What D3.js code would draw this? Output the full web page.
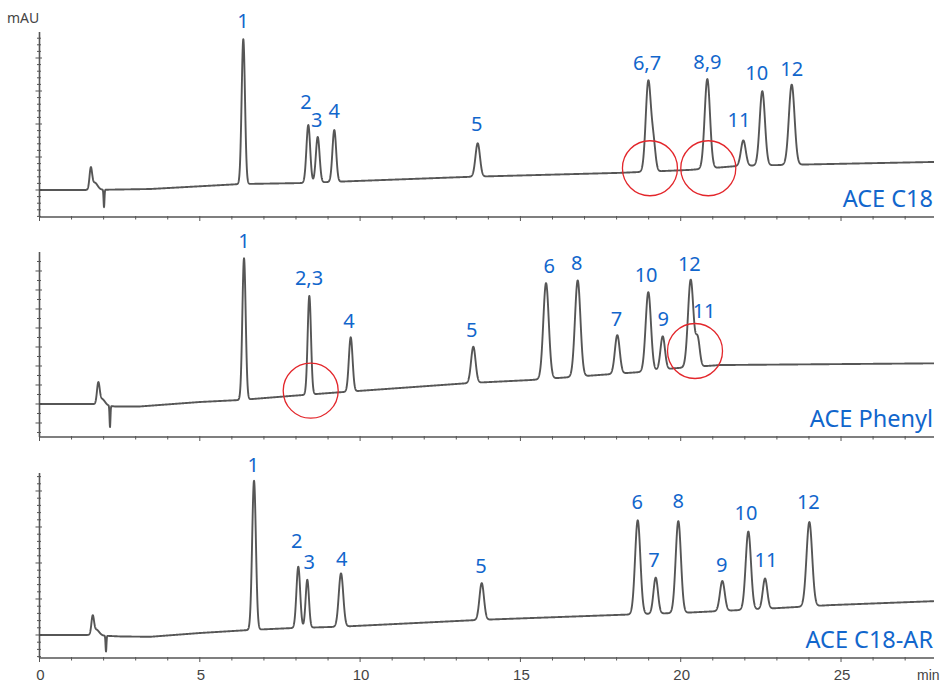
<!DOCTYPE html>
<html><head><meta charset="utf-8">
<script src="https://cdn.jsdelivr.net/npm/d3@7"></script>
<style>html,body{margin:0;padding:0;background:#fff;} svg{display:block;}</style>
</head><body><svg id="chart" width="944" height="684"></svg>
<script>
// ---------------- DATA ----------------
const timeDomain = [0, 27.9];
const xTickLabels = [0, 5, 10, 15, 20, 25];
const xUnit = "min";
const yUnit = "mAU";
const columnNames = ["ACE C18", "ACE Phenyl", "ACE C18-AR"];

// y-axis value ranges of each trace (arbitrary mAU scale per trace)
const c18YDomain = [-8.18, 47.88];
const phenylYDomain = [-17.37, 80.0];
const c18arYDomain = [-6.39, 45.0];

// baseline drift points [time, value]
const c18Baseline = [[0,0],[1.51,0],[3.45,0.3],[6.25,1.8],[8.13,2.1],[13.43,4.0],[18.11,5.2],[20.3,6.1],[21.8,7.3],[23.73,7.7],[27.9,8.5]];
const phenylBaseline = [[0,0],[1.64,0],[2.35,-1.3],[3.13,-1.3],[5.0,1.05],[6.25,2.1],[7.81,4.2],[9.06,5.8],[13.43,11.05],[15.3,12.6],[17.48,15.3],[18.73,16.8],[19.8,18.8],[21.23,20.5],[27.9,21.4]];
const c18arBaseline = [[0,0],[1.51,0],[2.51,-0.4],[3.45,-0.5],[5.0,0.55],[6.57,1.4],[7.81,1.9],[9.37,2.3],[13.74,4.2],[18.11,5.6],[20.3,6.25],[22.47,7.2],[24.66,8.3],[27.9,9.4]];

// peaks [retention time (min), height above baseline, sigma (min)]
const c18Peaks = [
  [1.600, 6.0, 0.040], [1.720, 2.2, 0.090], [2.012, -5.3, 0.014],
  [6.357, 43.9, 0.052], [8.384, 17.5, 0.058], [8.678, 13.8, 0.058], [9.195, 15.7, 0.058],
  [13.668, 10.1, 0.070], [18.989, 27.3, 0.080], [19.150, 8.0, 0.065], [20.830, 27.1, 0.083],
  [21.953, 7.7, 0.075], [22.545, 22.5, 0.082], [23.462, 24.3, 0.088]
];
const phenylPeaks = [
  [1.834, 10.5, 0.042], [1.950, 3.2, 0.090], [2.199, -11.2, 0.014],
  [6.379, 74.4, 0.052], [8.416, 51.9, 0.052], [9.707, 28.5, 0.058], [13.531, 19.0, 0.070],
  [15.799, 50.4, 0.085], [16.787, 50.6, 0.085], [18.022, 20.3, 0.075], [18.989, 41.6, 0.082],
  [19.438, 17.5, 0.070], [20.312, 46.0, 0.085], [20.530, 14.5, 0.065]
];
const c18arPeaks = [
  [1.659, 4.8, 0.040], [1.770, 1.6, 0.090], [2.074, -4.4, 0.014],
  [6.691, 41.4, 0.058], [8.072, 17.0, 0.058], [8.353, 13.3, 0.052], [9.404, 14.8, 0.070],
  [13.793, 10.2, 0.070], [18.659, 26.1, 0.082], [19.220, 10.0, 0.070], [19.925, 25.5, 0.082],
  [21.298, 8.3, 0.075], [22.109, 21.7, 0.082], [22.630, 8.4, 0.070], [24.012, 23.4, 0.088]
];

// peak labels [text, time, value]
const c18Labels = [["1",6.347,49.1],["2",8.313,24.5],["3",8.646,19.2],["4",9.195,21.8],["5",13.637,18.0],
  ["6,7",18.95,36.4],["8,9",20.83,36.6],["11",21.82,19.2],["10",22.37,33.3],["12",23.46,34.5]];
const phenylLabels = [["1",6.379,82.3],["2,3",8.406,62.6],["4",9.65,39.8],["5",13.48,35.4],["6",15.9,69.1],
  ["8",16.756,70.5],["7",18.0,41.1],["10",18.92,64.4],["9",19.457,41.1],["12",20.27,70.2],["11",20.73,45.1]];
const c18arLabels = [["1",6.669,45.4],["2",8.023,24.1],["3",8.416,18.25],["4",9.426,19.2],["5",13.77,17.3],
  ["6",18.646,35.0],["7",19.167,19.0],["8",19.925,35.4],["9",21.279,17.6],["10",22.037,31.9],["11",22.66,19.0],["12",23.98,34.9]];

// highlighted co-elution regions [time, value]
const c18Circles = [[19.04, 6.6], [20.86, 6.6]];
const phenylCircles = [[8.459, 7.0], [20.446, 27.9]];
const c18arCircles = [];

// ---------------- DRAW ----------------
const svg = d3.select("#chart");
const x = d3.scaleLinear().domain(timeDomain).range([39.5, 934]);

const panels = [
  {name: columnNames[0], yDomain: c18YDomain, base: c18Baseline, peaks: c18Peaks, labels: c18Labels, circles: c18Circles, top: 32, bottom: 217, major: 10, minor: 2},
  {name: columnNames[1], yDomain: phenylYDomain, base: phenylBaseline, peaks: phenylPeaks, labels: phenylLabels, circles: phenylCircles, top: 252, bottom: 437, major: 10, minor: 5},
  {name: columnNames[2], yDomain: c18arYDomain, base: c18arBaseline, peaks: c18arPeaks, labels: c18arLabels, circles: c18arCircles, top: 473, bottom: 658, major: 10, minor: 2}
];

const axisColor = "#555";
const labelBlue = "#1166cc";
const samples = d3.range(timeDomain[0], timeDomain[1] + 1e-9, 0.004);

panels.forEach((p, i) => {
  const y = d3.scaleLinear().domain(p.yDomain).range([p.bottom, p.top]);
  const baseScale = d3.scaleLinear().domain(p.base.map(d => d[0])).range(p.base.map(d => d[1])).clamp(true);
  const signal = t => baseScale(t) + d3.sum(p.peaks, ([c, h, s]) => h * Math.exp(-0.5 * ((t - c) / s) ** 2));
  const g = svg.append("g");

  // y axis
  g.append("line").attr("x1", x(0)).attr("x2", x(0)).attr("y1", p.top).attr("y2", p.bottom)
    .attr("stroke", axisColor).attr("stroke-width", 1.6);
  const yt = d3.range(Math.ceil(p.yDomain[0] / p.minor) * p.minor, p.yDomain[1], p.minor);
  g.selectAll(".yt").data(yt).join("line")
    .attr("x1", d => x(0) - (Math.abs(d % p.major) < 1e-6 ? 4 : 2.5))
    .attr("x2", d => x(0) + (Math.abs(d % p.major) < 1e-6 ? 2.5 : 1.5))
    .attr("y1", d => y(d)).attr("y2", d => y(d))
    .attr("stroke", axisColor).attr("stroke-width", 1);

  // x axis
  g.append("line").attr("x1", x(0)).attr("x2", x(timeDomain[1])).attr("y1", p.bottom).attr("y2", p.bottom)
    .attr("stroke", axisColor).attr("stroke-width", 1.6);
  const xt = d3.range(0, Math.floor(timeDomain[1]) + 1, 1);
  g.selectAll(".xt").data(xt).join("line")
    .attr("x1", d => x(d)).attr("x2", d => x(d))
    .attr("y1", p.bottom - 1).attr("y2", d => p.bottom + (d % 5 === 0 ? 4 : 2.5))
    .attr("stroke", axisColor).attr("stroke-width", 1);

  // trace
  const line = d3.line().x(t => x(t)).y(t => y(signal(t)));
  g.append("path").datum(samples).attr("d", line)
    .attr("fill", "none").attr("stroke", "#444").attr("stroke-width", 1.9)
    .attr("stroke-linejoin", "round").attr("opacity", 0.9);

  // peak labels
  g.selectAll(".pl").data(p.labels).join("text")
    .attr("x", d => x(d[1])).attr("y", d => y(d[2]))
    .attr("text-anchor", "middle").attr("font-family", "Noto Sans, sans-serif")
    .attr("font-size", 20).attr("fill", labelBlue).text(d => d[0]);

  // circles
  g.selectAll(".ci").data(p.circles).join("circle")
    .attr("cx", d => x(d[0])).attr("cy", d => y(d[1])).attr("r", 27.5)
    .attr("fill", "none").attr("stroke", "#e3262b").attr("stroke-width", 1.3);

  // column name
  g.append("text").attr("x", 933).attr("y", p.bottom - 10)
    .attr("text-anchor", "end").attr("font-family", "Noto Sans, sans-serif")
    .attr("font-size", 23.5).attr("fill", labelBlue).text(p.name);
});

// y unit
svg.append("text").attr("x", 7).attr("y", 23).attr("font-family", "Noto Sans, sans-serif")
  .attr("font-size", 14).attr("fill", "#444").text(yUnit);

// x tick labels (bottom panel only)
svg.selectAll(".xl").data(xTickLabels).join("text")
  .attr("x", d => x(d) + 1).attr("y", 680).attr("text-anchor", "middle")
  .attr("font-family", "Liberation Sans, sans-serif").attr("font-size", 15).attr("fill", "#444")
  .text(d => d);
svg.append("text").attr("x", 917).attr("y", 680).attr("font-family", "Liberation Sans, sans-serif")
  .attr("font-size", 14).attr("fill", "#444").text(xUnit);
</script></body></html>
